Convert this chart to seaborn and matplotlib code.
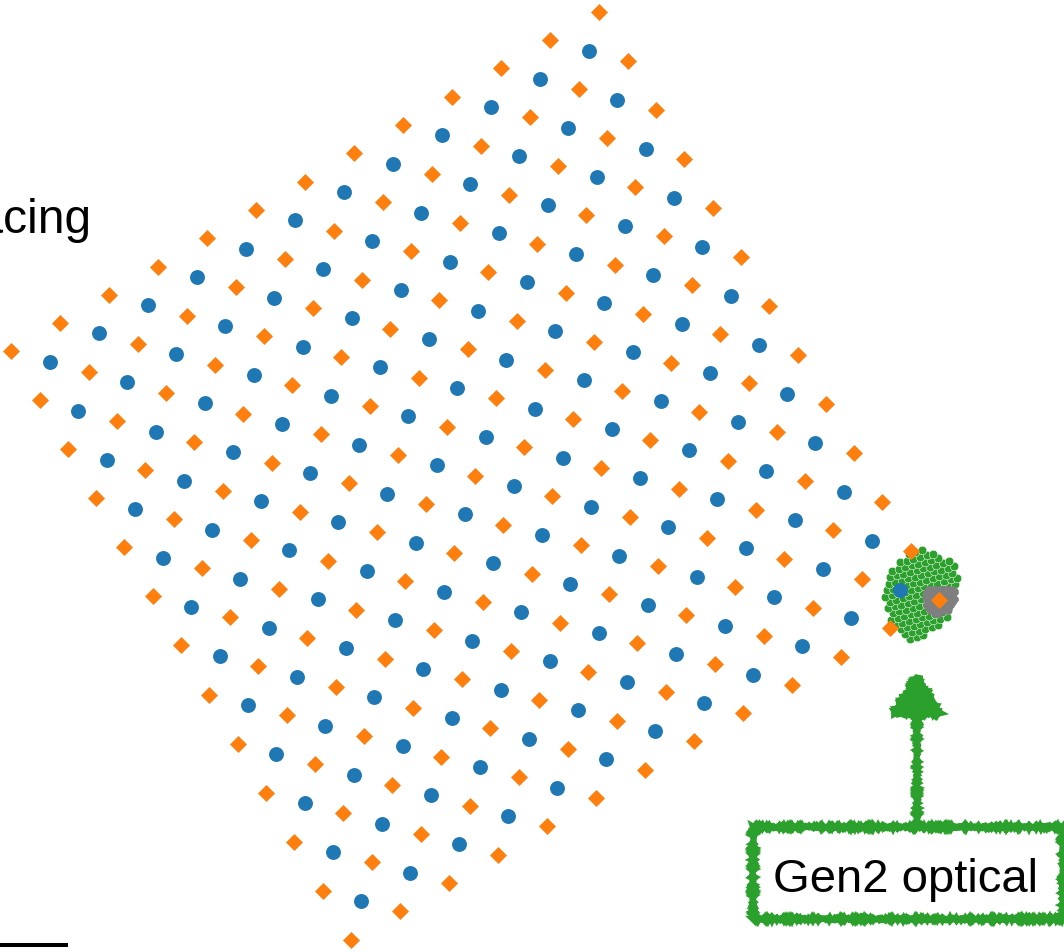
import numpy as np
import pandas as pd
import matplotlib
matplotlib.use("Agg")
import matplotlib.pyplot as plt
from matplotlib.path import Path
from matplotlib.patches import Rectangle
import seaborn as sns

# ---- layout data (metres, origin at the IceCube centre) ----
# Gen2 radio: square grid of shallow stations, hybrid stations at the cell centres
radio_spacing = 2000.0
radio_n = 13
radio_axis_deg = [210.0, 120.0]

# Gen2 optical footprint, strings on a 240 m triangular grid
optical_spacing = 240.0
optical_outline_x = [-671, -141, 247, 565, 742, 707, 565, 459, 212, -106,
                     -530, -954, -1343, -1661, -1873, -1944, -1873, -1661, -1343, -990]
optical_outline_y = [1838, 1732, 1484, 1237, 848, 424, 0, -389, -707, -1025,
                     -1308, -1449, -1308, -919, -389, 106, 601, 1060, 1449, 1732]

# IceCube footprint, strings on a 125 m triangular grid
icecube_spacing = 125.0
icecube_outline_x = [-420, 560, 600, 350, -141, -450, -530]
icecube_outline_y = [420, 390, -106, -420, -530, -300, 141]

spacing_label = "2 km spacing"
optical_label = "Gen2 optical"
scale_bar_m = 5000.0


def radio_stations():
    u = radio_spacing * np.array([np.cos(np.radians(radio_axis_deg[0])),
                                  np.sin(np.radians(radio_axis_deg[0]))])
    v = radio_spacing * np.array([np.cos(np.radians(radio_axis_deg[1])),
                                  np.sin(np.radians(radio_axis_deg[1]))])
    i, j = np.meshgrid(np.arange(radio_n), np.arange(radio_n))
    shallow = np.outer(i.ravel(), u) + np.outer(j.ravel(), v)
    ic, jc = np.meshgrid(np.arange(radio_n - 1) + 0.5, np.arange(radio_n - 1) + 0.5)
    hybrid = np.outer(ic.ravel(), u) + np.outer(jc.ravel(), v)
    return (pd.DataFrame(shallow, columns=["x", "y"]),
            pd.DataFrame(hybrid, columns=["x", "y"]))


def strings_in(outline_x, outline_y, spacing, angle_deg=0.0):
    xs, ys = np.asarray(outline_x, float), np.asarray(outline_y, float)
    cx, cy = xs.mean(), ys.mean()
    r = np.hypot(xs - cx, ys - cy).max() + 2 * spacing
    n = int(r / spacing) + 2
    pts = []
    for row in range(-n, n + 1):
        yy = row * spacing * np.sqrt(3) / 2
        off = 0.5 * spacing * (row % 2)
        for col in range(-n, n + 1):
            pts.append((col * spacing + off, yy))
    pts = np.array(pts)
    a = np.radians(angle_deg)
    rot = np.array([[np.cos(a), -np.sin(a)], [np.sin(a), np.cos(a)]])
    pts = pts @ rot.T + [cx, cy]
    inside = Path(np.column_stack([xs, ys])).contains_points(pts)
    return pd.DataFrame(pts[inside], columns=["x", "y"])


shallow_df, hybrid_df = radio_stations()
optical_df = strings_in(optical_outline_x, optical_outline_y, optical_spacing, 15.0)
icecube_df = strings_in(icecube_outline_x, icecube_outline_y, icecube_spacing, 0.0)

# ---- figure ----
sns.set_style("white")
plt.rcParams["font.family"] = ["Liberation Sans", "DejaVu Sans"]

fig = plt.figure(figsize=(10.64, 9.52), dpi=100)
ax = fig.add_axes([0, 0, 1, 1])

m_per_px = 35.34
xlim = (-939 * m_per_px, 125 * m_per_px)
ylim = (-352 * m_per_px, 600 * m_per_px)

sns.scatterplot(data=optical_df, x="x", y="y", ax=ax, color="#2ca02c", s=38,
                edgecolor="white", linewidth=0.35, legend=False, zorder=2)
sns.scatterplot(data=icecube_df, x="x", y="y", ax=ax, color="#7f7f7f", s=24,
                linewidth=0, legend=False, zorder=3)
sns.scatterplot(data=hybrid_df, x="x", y="y", ax=ax, color="#1f77b4", s=115,
                marker="o", linewidth=0, legend=False, zorder=4)
sns.scatterplot(data=shallow_df, x="x", y="y", ax=ax, color="#ff7f0e", s=75,
                marker="D", linewidth=0, legend=False, zorder=5)

ax.set_xlim(*xlim)
ax.set_ylim(*ylim)
ax.set_aspect("equal")
ax.set_axis_off()

# spacing note
ax.text(-29968, 12970, spacing_label, ha="right", va="baseline", fontsize=34.5,
        color="black", zorder=6)

# scale bar
ax.plot([-30781 - scale_bar_m, -30781], [-12182, -12182], color="black",
        lw=2.9, solid_capstyle="butt", zorder=6)

# sketched annotation for the optical array
green = "#2ca02c"
box = Rectangle((-6573, -11273), 6573 + 4382, 11273 - 8022, facecolor="white",
                edgecolor=green, lw=4.6, zorder=7)
box.set_sketch_params(1.1, 2.0, 1.5)
ax.add_patch(box)
ax.text(-1184, -10319, optical_label, ha="center", va="baseline", fontsize=34,
        color="black", zorder=8)
arr = ax.annotate("", xy=(-777, -2544), xytext=(-777, -8022),
                  arrowprops=dict(arrowstyle="-|>,head_length=2.6,head_width=1.65",
                                  mutation_scale=10, color=green, lw=4.3,
                                  shrinkA=0, shrinkB=0), zorder=7)
arr.arrow_patch.set_joinstyle("miter")
arr.arrow_patch.set_sketch_params(1.1, 2.0, 1.5)

fig.savefig("out.png", dpi=100)
